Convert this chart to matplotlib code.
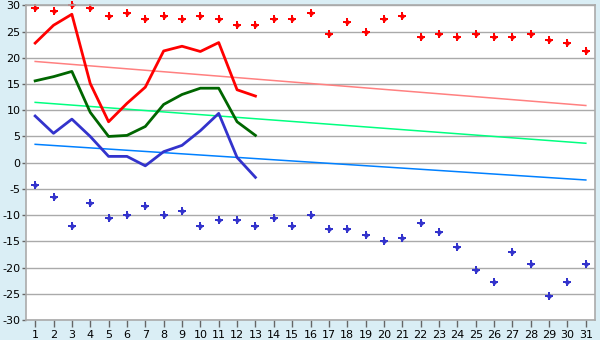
import matplotlib
matplotlib.use("Agg")
import matplotlib.pyplot as plt

plt.rcParams["axes.unicode_minus"] = False

days = list(range(1, 32))
tick_labels = [str(d) for d in days]

# record highs / lows (markers)
high_pts = [29.4, 29.0, 30.0, 29.5, 27.9, 28.5, 27.3, 27.9, 27.3, 27.9,
            27.3, 26.2, 26.2, 27.3, 27.3, 28.5, 24.5, 26.8, 25.0, 27.3,
            27.9, 23.9, 24.5, 23.9, 24.5, 23.9, 23.9, 24.5, 23.3, 22.9, 21.2]
low_pts = [-4.3, -6.6, -12.1, -7.7, -10.6, -10.0, -8.3, -10.0, -9.2, -12.1,
           -11.0, -11.0, -12.1, -10.6, -12.1, -10.0, -12.7, -12.7, -13.8, -15.0,
           -14.4, -11.5, -13.2, -16.1, -20.5, -22.8, -17.0, -19.3, -25.4, -22.8, -19.3]

# current month (days 1-13)
line_days = list(range(1, 14))
t_max = [22.8, 26.2, 28.3, 15.1, 7.8, 11.3, 14.4, 21.3, 22.2, 21.2, 22.9, 13.9, 12.7]
t_avg = [15.6, 16.4, 17.4, 9.6, 5.0, 5.2, 6.9, 11.1, 13.0, 14.2, 14.2, 7.8, 5.2]
t_min = [8.9, 5.6, 8.3, 5.0, 1.2, 1.2, -0.6, 2.1, 3.3, 6.1, 9.4, 1.0, -2.8]

# normals (start / end of month)
norm_days = [1, 31]
norm_max = [19.3, 10.9]
norm_avg = [11.5, 3.7]
norm_min = [3.5, -3.3]

bg = "#daeef5"
fig = plt.figure(figsize=(6, 3.4), dpi=100, facecolor=bg)
ax = fig.add_axes([0.0433, 0.0588, 0.9484, 0.9255])
ax.set_facecolor("white")

ax.plot(norm_days, norm_max, color="#ff8080", lw=1.1)
ax.plot(norm_days, norm_avg, color="#00ff80", lw=1.1)
ax.plot(norm_days, norm_min, color="#0080ff", lw=1.1)

ax.plot(line_days, t_max, color="#ff0000", lw=2)
ax.plot(line_days, t_avg, color="#006600", lw=2)
ax.plot(line_days, t_min, color="#3333cc", lw=2)

for pts, c in [(high_pts, "#ff0000"), (low_pts, "#3333cc")]:
    ax.plot(days, pts, "P", color=c, ms=5.5, mew=0, ls="none", clip_on=False)
    ax.plot(days, pts, "D", color=c, ms=3, mew=0, ls="none", clip_on=False)

ax.set_xlim(0.5, 31.5)
ax.set_ylim(-30, 30)
ax.set_xticks(days)
ax.set_xticklabels(tick_labels)
ax.set_yticks(range(-30, 31, 5))
ax.yaxis.grid(True, color="#aaaaaa", lw=1)
ax.set_axisbelow(True)
for s in ax.spines.values():
    s.set_color("#aaaaaa")
    s.set_linewidth(1.2)
ax.tick_params(axis="x", colors="#000000", labelsize=8, length=5, width=1,
               color="#666666", pad=2)
ax.tick_params(axis="y", colors="#000000", labelsize=8, length=3, width=1,
               color="#666666", pad=1)

fig.savefig("out.png", dpi=100, facecolor=bg)
